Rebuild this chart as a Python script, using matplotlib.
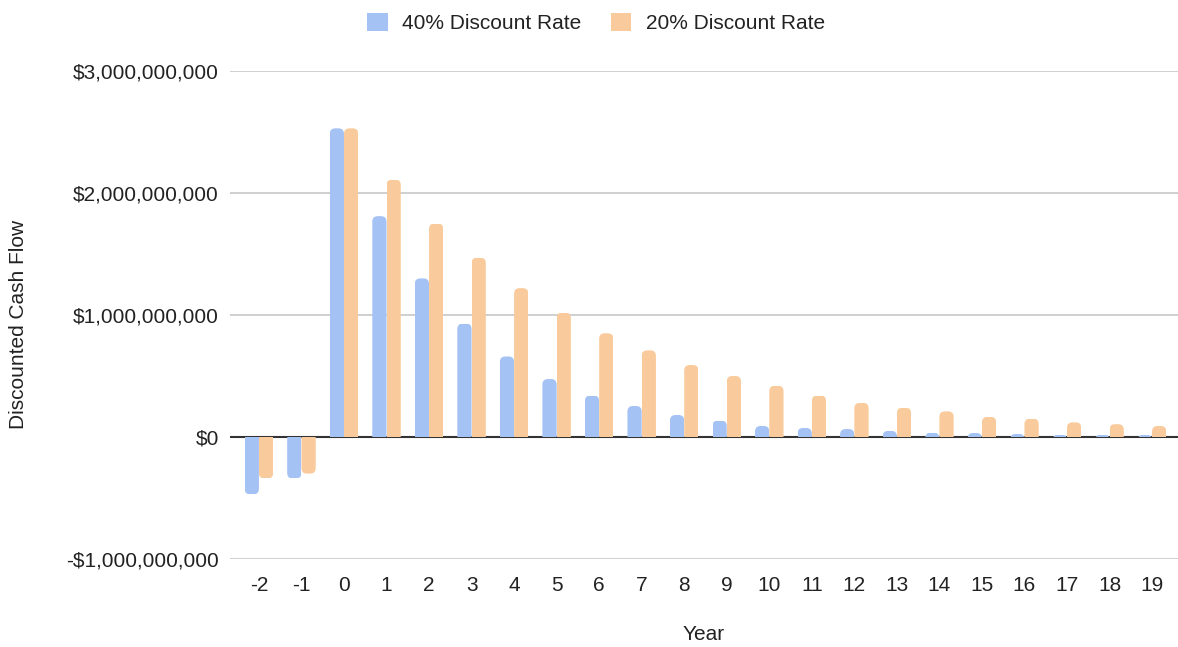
import numpy as np
import matplotlib.pyplot as plt
from matplotlib.patches import FancyBboxPatch, Patch
from matplotlib.ticker import FuncFormatter

plt.rcParams['font.family'] = ['Liberation Sans', 'DejaVu Sans']

years = list(range(-2, 20))
dcf_40 = [-0.47e9, -0.34e9, 2.53e9, 1.81e9, 1.30e9, 0.93e9, 0.66e9, 0.475e9,
          0.34e9, 0.254e9, 0.18e9, 0.135e9, 0.09e9, 0.074e9, 0.065e9, 0.05e9,
          0.035e9, 0.033e9, 0.025e9, 0.02e9, 0.02e9, 0.018e9]
dcf_20 = [-0.34e9, -0.30e9, 2.53e9, 2.11e9, 1.75e9, 1.47e9, 1.22e9, 1.02e9,
          0.85e9, 0.71e9, 0.59e9, 0.50e9, 0.42e9, 0.34e9, 0.28e9, 0.24e9,
          0.21e9, 0.165e9, 0.15e9, 0.12e9, 0.105e9, 0.09e9]
series_labels = ['40% Discount Rate', '20% Discount Rate']
colors = ['#a4c2f4', '#f9cb9c']
text_col = '#222222'

W, H = 1178, 647
fig = plt.figure(figsize=(W / 100, H / 100), dpi=100)
ax = fig.add_axes([230 / W, (H - 559) / H, 948 / W, 488 / H])

x = np.arange(len(years))
width = 0.335
ax.set_xlim(-0.68, len(years) - 1 + 0.61)
ax.set_ylim(-1e9, 3e9)

# pixels -> data scale, used to keep the bar-end rounding circular
px_x = (ax.get_xlim()[1] - ax.get_xlim()[0]) / 948
px_y = (ax.get_ylim()[1] - ax.get_ylim()[0]) / 488
aspect = px_y / px_x
r = 5.5 * px_x

for vals, col, off in [(dcf_40, colors[0], -width / 2), (dcf_20, colors[1], width / 2)]:
    bars = ax.bar(x + off, vals, width, color=col, zorder=3)
    for rect in bars:
        x0 = rect.get_x()
        h = rect.get_height()
        ext = 3 * r * aspect
        if h >= 0:
            y0, hh = -ext, h + ext
        else:
            y0, hh = h, -h + ext
        # rounded outer end, flat end at the baseline (cut off by the bar rect)
        rp = FancyBboxPatch((x0, y0), width, hh,
                            boxstyle=f'round,pad=0,rounding_size={r}',
                            mutation_aspect=aspect, facecolor=col,
                            edgecolor='none', zorder=3)
        ax.add_patch(rp)
        rp.set_clip_path(rect)
        rect.set_visible(False)

ax.axhline(0, color='#333333', lw=1.5, zorder=2)
ax.set_yticks([-1e9, 0, 1e9, 2e9, 3e9])
ax.yaxis.grid(True, color='#cccccc', lw=1.3, zorder=1)
ax.set_axisbelow(True)

def money(v, pos):
    v = int(round(v))
    return f'-${abs(v):,}' if v < 0 else f'${v:,}'

ax.yaxis.set_major_formatter(FuncFormatter(money))
ax.set_xticks(x)
ax.set_xticklabels([str(y) for y in years])
ax.tick_params(axis='both', length=0, labelsize=15, colors=text_col)
ax.tick_params(axis='x', pad=12)
ax.tick_params(axis='y', pad=8)
for s in ax.spines.values():
    s.set_visible(False)

ax.set_xlabel('Year', fontsize=15, color=text_col, va='center')
ax.xaxis.set_label_coords(0.5, -0.154)
ax.set_ylabel('Discounted Cash Flow', fontsize=15, color=text_col, va='center')
ax.yaxis.set_label_coords(-0.2226, 0.48)

handles = [Patch(facecolor=c, edgecolor='none') for c in colors]
fig.legend(handles, series_labels, loc='center', bbox_to_anchor=(596 / W, 1 - 23 / H),
           ncol=2, frameon=False, fontsize=15, handlelength=1.0, handleheight=1.0,
           handletextpad=0.7, columnspacing=1.4, labelcolor=text_col)

fig.savefig('out.png', dpi=100)
